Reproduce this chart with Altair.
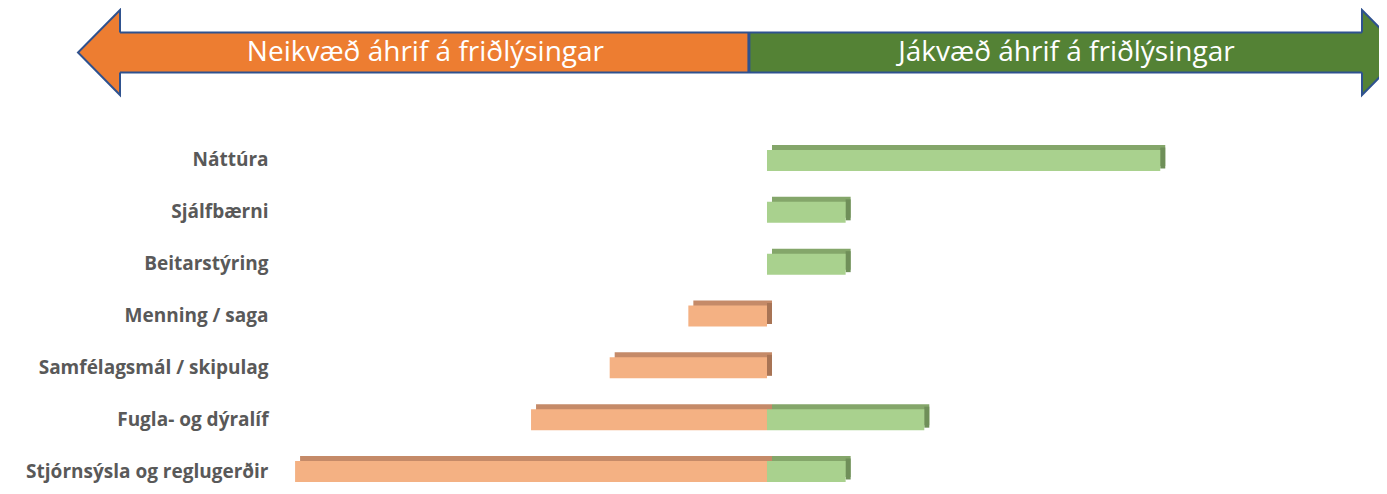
import altair as alt
import pandas as pd

# ---- data ----
categories = [
    "Náttúra",
    "Sjálfbærni",
    "Beitarstýring",
    "Menning / saga",
    "Samfélagsmál / skipulag",
    "Fugla- og dýralíf",
    "Stjórnsýsla og reglugerðir",
]
negative = [0, 0, 0, -1, -2, -3, -6]
positive = [5, 1, 1, 0, 0, 2, 1]
arrow_labels = ["Neikvæð áhrif á friðlýsingar", "Jákvæð áhrif á friðlýsingar"]

# ---- layout / style ----
X_MIN, X_MAX = -8.226, 7.565       # x-scale extent (arrow body spans it)
ARROW_SPLIT = -0.23               # where the two halves of the arrow meet
ORANGE, GREEN, BLUE = "#ED7D31", "#548235", "#2F528F"
BAR_NEG, BAR_POS = "#F4B183", "#A9D18E"
TOP_NEG, TOP_POS = "#C58A68", "#84A66A"
SIDE_NEG, SIDE_POS = "#A87455", "#6F8F59"
DEPTH = 5

rows = []
for c, n, p in zip(categories, negative, positive):
    if n < 0:
        rows.append(dict(cat=c, seg="neg", x=n, x2=0, last=(p == 0)))
    if p > 0:
        rows.append(dict(cat=c, seg="pos", x=0, x2=p, last=True))
bars = pd.DataFrame(rows)

arrow = pd.DataFrame({
    "label": arrow_labels,
    "x": [X_MIN, ARROW_SPLIT],
    "x2": [ARROW_SPLIT, X_MAX],
})
arrow["mid"] = (arrow["x"] + arrow["x2"]) / 2

xs = alt.Scale(domain=[X_MIN, X_MAX], nice=False, zero=False)
X = alt.X("x:Q", scale=xs, axis=None)
Y = alt.Y(
    "cat:N",
    sort=categories,
    scale=alt.Scale(paddingInner=0.595, paddingOuter=0),
    axis=alt.Axis(
        title=None, ticks=False, domain=False, grid=False,
        labelFont="Open Sans", labelFontWeight="bold", labelFontSize=19,
        labelColor="#595959", offset=-148, labelPadding=0, labelLimit=400,
    ),
)

is_neg = alt.datum.seg == "neg"

top_face = alt.Chart(bars).mark_bar(
    xOffset=DEPTH, x2Offset=DEPTH, yOffset=-DEPTH, y2Offset=-DEPTH
).encode(
    x=X, x2="x2:Q", y=Y,
    color=alt.condition(is_neg, alt.value(TOP_NEG), alt.value(TOP_POS)),
)
side_face = alt.Chart(bars).transform_filter(alt.datum.last).mark_bar(
    x2Offset=DEPTH, yOffset=-DEPTH / 2, y2Offset=-DEPTH / 2
).encode(
    x=alt.X("x2:Q", scale=xs, axis=None), x2="x2:Q", y=Y,
    color=alt.condition(is_neg, alt.value(SIDE_NEG), alt.value(SIDE_POS)),
)
front = alt.Chart(bars).mark_bar().encode(
    x=X, x2="x2:Q", y=Y,
    color=alt.condition(is_neg, alt.value(BAR_NEG), alt.value(BAR_POS)),
)

# ---- header arrow (pixel rows above the plot) ----
CY, BODY_H, HEAD_H = -97.5, 20, 42.5
is_left = alt.datum.label == arrow_labels[0]

body = alt.Chart(arrow).mark_rect().encode(
    x=X, x2="x2:Q",
    y=alt.value(CY - BODY_H), y2=alt.value(CY + BODY_H),
    color=alt.condition(is_left, alt.value(ORANGE), alt.value(GREEN)),
)
edges = alt.Chart(arrow).mark_rule(color=BLUE, strokeWidth=2).encode(
    x=alt.X("min(x):Q", scale=xs, axis=None), x2="max(x2):Q",
    y=alt.value(CY - BODY_H),
)
edges_b = alt.Chart(arrow).mark_rule(color=BLUE, strokeWidth=2).encode(
    x=alt.X("min(x):Q", scale=xs, axis=None), x2="max(x2):Q",
    y=alt.value(CY + BODY_H),
)
divider = alt.Chart(arrow).transform_filter(is_left).mark_rule(
    color=BLUE, strokeWidth=3
).encode(
    x=alt.X("x2:Q", scale=xs, axis=None),
    y=alt.value(CY - BODY_H), y2=alt.value(CY + BODY_H),
)
r = BODY_H / HEAD_H
left_path = f"M0,-{r:.3f} L0,-1 L-0.988,0 L0,1 L0,{r:.3f}"
right_path = f"M0,-{r:.3f} L0,-1 L0.988,0 L0,1 L0,{r:.3f}"
head_l = alt.Chart(arrow).transform_filter(is_left).mark_point(
    shape=left_path, size=(2 * HEAD_H) ** 2, filled=True, fill=ORANGE,
    stroke=BLUE, strokeWidth=2, opacity=1, fillOpacity=1, strokeOpacity=1,
).encode(x=X, y=alt.value(CY))
head_r = alt.Chart(arrow).transform_filter(~is_left).mark_point(
    shape=right_path, size=(2 * HEAD_H) ** 2, filled=True, fill=GREEN,
    stroke=BLUE, strokeWidth=2, opacity=1, fillOpacity=1, strokeOpacity=1,
).encode(x=alt.X("x2:Q", scale=xs, axis=None), y=alt.value(CY))

text_l = alt.Chart(arrow).transform_filter(is_left).mark_text(
    font="Open Sans", fontSize=28, color="white", dx=-9, baseline="middle"
).encode(x=alt.X("mid:Q", scale=xs, axis=None), y=alt.value(CY), text="label:N")
text_r = alt.Chart(arrow).transform_filter(~is_left).mark_text(
    font="Open Sans", fontSize=28, color="white", dx=11, baseline="middle"
).encode(x=alt.X("mid:Q", scale=xs, axis=None), y=alt.value(CY), text="label:N")

chart = alt.layer(
    body, edges, edges_b, divider, head_l, head_r, text_l, text_r,
    top_face, side_face, front,
).properties(
    width=1242, height=332,
    autosize=alt.AutoSizeParams(type="none"),
    padding={"left": 112, "top": 142, "right": 17, "bottom": 2},
).configure(
    background="white",
    view=alt.ViewConfig(stroke=None, strokeWidth=0),
)

chart.save("out.html", embed_options={"renderer": "svg", "actions": False})
